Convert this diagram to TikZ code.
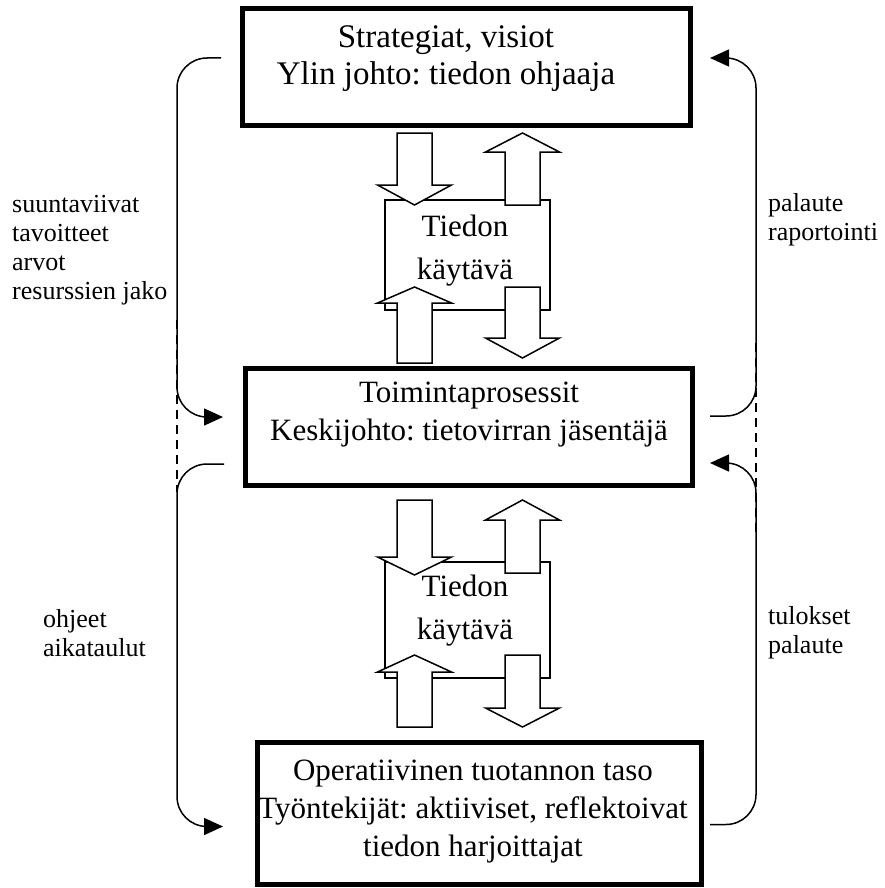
\documentclass[tikz,border=0pt]{standalone}
\usepackage{fontspec}
\setmainfont{Liberation Serif}
\usetikzlibrary{arrows.meta}

% hollow block arrows: #1 left x of shaft, #2 tail y, #3 head base y, #4 tip y
\newcommand\blockdown[4]{%
  \draw[blockarrow] (#1,#2) -- (#1+35,#2) -- (#1+35,#3) -- (#1+54.5,#3)
    -- (#1+17.5,#4) -- (#1-19.5,#3) -- (#1,#3) -- cycle;}
\newcommand\blockup[4]{%
  \draw[blockarrow] (#1,#2) -- (#1+35,#2) -- (#1+35,#3) -- (#1+54.5,#3)
    -- (#1+17.5,#4) -- (#1-19.5,#3) -- (#1,#3) -- cycle;}

\begin{document}
\frenchspacing
\begin{tikzpicture}[x=1pt,y=-1pt,
  level/.style={draw, line width=5pt, inner sep=0pt},
  levtext/.style={align=center, inner sep=0pt, font=\fontsize{31}{38}\selectfont},
  corridor/.style={draw, line width=1.5pt, inner sep=0pt},
  corrtext/.style={align=center, inner sep=0pt, font=\fontsize{31}{43}\selectfont},
  blockarrow/.style={draw, fill=white, line width=1.5pt, line join=miter},
  flow/.style={line width=1.5pt, rounded corners=30pt,
               -{Triangle[length=19pt,width=17pt]}},
  dashline/.style={line width=2pt, dash pattern=on 9pt off 6pt},
  sidelabel/.style={align=left, anchor=west, inner sep=0pt,
                    font=\fontsize{26}{29}\selectfont}]
\useasboundingbox (0,0) rectangle (884,888);

% the three levels
\node[level, minimum width=448pt, minimum height=117pt] (top) at (466.5,67) {};
\node[levtext, font=\fontsize{33}{37}\selectfont] (toptext) at (446,59)
  {Strategiat, visiot\\Ylin johto: tiedon ohjaaja};

\node[level, minimum width=447pt, minimum height=117pt] (mid) at (469,427) {};
\node[levtext] (midtext) at (469,415) {Toimintaprosessit\\Keskijohto: tietovirran jäsentäjä};

\node[level, minimum width=444pt, minimum height=142pt] (bot) at (479.5,813.5) {};
\node[levtext] (bottext) at (473,812) {Operatiivinen tuotannon taso\\Työntekijät: aktiiviset, reflektoivat\\tiedon harjoittajat};

% information corridors with their block arrows
\node[corridor, minimum width=165pt, minimum height=110pt] (c1) at (467.5,255) {};
\blockdown{397}{133}{185}{205}
\blockup{505}{205}{152}{133}
\blockup{397}{363}{303}{287}
\blockdown{505}{287}{338}{358}
\node[corrtext] (c1text) at (465,251) {Tiedon\\käytävä};

\node[corridor, minimum width=165pt, minimum height=116pt] (c2) at (467.5,620) {};
\blockdown{397}{500}{557}{575}
\blockup{505}{573}{520}{500}
\blockup{397}{727}{672}{655}
\blockdown{505}{655}{708}{727}
\node[corrtext] (c2text) at (465,611) {Tiedon\\käytävä};

% bracket end points beside the levels
\coordinate (l1s) at ([xshift=-19pt,yshift=9pt]top.west);
\coordinate (l1e) at ([xshift=-20pt,yshift=10pt]mid.west);
\coordinate (l2s) at ([xshift=-19pt,yshift=-37pt]mid.west);
\coordinate (l2e) at ([xshift=-32pt,yshift=-13pt]bot.west);
\coordinate (r1s) at ([xshift=15pt,yshift=11pt]mid.east);
\coordinate (r1e) at ([xshift=17pt,yshift=9pt]top.east);
\coordinate (r2s) at ([xshift=6pt,yshift=-11pt]bot.east);
\coordinate (r2e) at ([xshift=15pt,yshift=-36pt]mid.east);
\coordinate (lx) at (177,0);
\coordinate (rx) at (756,0);

% downward guidance (left) and upward feedback (right)
\draw[flow] (l1s) -| (lx |- l1e) -- (l1e);
\draw[flow] (l2s) -| (lx |- l2e) -- (l2e);
\draw[flow] (r1s) -| (rx |- r1e) -- (r1e);
\draw[flow] (r2s) -| (rx |- r2e) -- (r2e);

% dashed links across the middle level
\draw[dashline] (lx |- 0,320) coordinate (ld1) -- (lx |- 0,492) coordinate (ld2);
\draw[dashline] (rx |- 0,343) coordinate (rd1) -- (rx |- 0,533) coordinate (rd2);

% flow labels
\node[sidelabel] (lab1) at (12,250) {suuntaviivat\\tavoitteet\\arvot\\resurssien jako};
\node[sidelabel] (lab2) at (43,633) {ohjeet\\aikataulut};
\node[sidelabel] (lab3) at (768,220) {palaute\\raportointi};
\node[sidelabel] (lab4) at (768,633) {tulokset\\palaute};
\end{tikzpicture}
\end{document}
